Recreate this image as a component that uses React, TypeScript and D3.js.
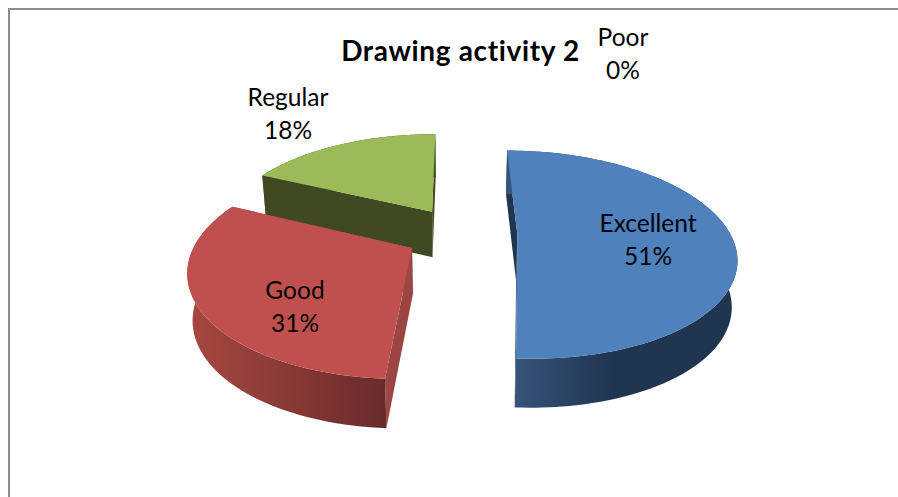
import React from "react";
import * as d3 from "d3";

// Drawing activity ratings, in percent
const categories = ["Excellent", "Good", "Regular", "Poor"];
const percentages = [51, 31, 18, 0];

// Colours per slice: top face, cut face, wall gradient stops
const topColors = ["#4f81bd", "#c0504d", "#9bbb59", "#8064a2"];
const cutColors = ["#1f3550", "#9c4644", "#3f4a22", "#4a3a60"];
const wallStart = ["#37547a", "#a5483f", "#3f4a22", "#4a3a60"];
const wallEnd = ["#1f3550", "#692a2b", "#3f4a22", "#4a3a60"];

// Oblique projection of the pie
const width = 898;
const height = 497;
const vanishX = 453;
const offAxis = 0.045;
const centerY = 234;
const radiusX = 213;
const radiusY = 100;
const perspective = 0.19;
const thickness = 46;
const thicknessFalloff = 0.3;
const baseShrink = 0.98;
const explodeBy = [0.257, 0.27, 0.275, 0];

const labelAnchors: [number, number][] = [
  [648, 224],
  [295, 291],
  [288, 98],
  [623, 38],
];

type Pt = [number, number];

function project(wx: number, wy: number, depth: number): Pt {
  const s = 1 / (1 + perspective * wy);
  const shrink = 1 - (1 - baseShrink) * depth;
  return [
    vanishX + radiusX * (wx + offAxis) * s * shrink,
    centerY - radiusY * wy * s + thickness * depth * Math.pow(s, thicknessFalloff),
  ];
}

const arcs = d3
  .pie<number>()
  .sort(null)
  .startAngle(0)
  .endAngle(2 * Math.PI)(percentages);

const line = d3.line<Pt>();

interface Slice {
  index: number;
  top: string;
  wall: string;
  cutA: string;
  cutB: string;
  wallRange: [number, number];
}

function buildSlice(index: number): Slice {
  const arc = arcs[index];
  const mid = (arc.startAngle + arc.endAngle) / 2;
  const e = explodeBy[index];
  const ox = Math.sin(mid) * e;
  const oy = Math.cos(mid) * e;
  const angles = d3.range(0, 121).map(
    (i) => arc.startAngle + ((arc.endAngle - arc.startAngle) * i) / 120
  );
  const rim = (depth: number) =>
    angles.map((a) => project(ox + Math.sin(a), oy + Math.cos(a), depth));
  const apex = (depth: number) => project(ox, oy, depth);
  const rimTop = rim(0);
  const rimBase = rim(1);
  const first = rimTop[0];
  const last = rimTop[rimTop.length - 1];
  const firstB = rimBase[0];
  const lastB = rimBase[rimBase.length - 1];
  const closed = (pts: Pt[]) => (line(pts) ?? "") + "Z";
  const visible = rimBase.filter((_, i) => Math.cos(angles[i]) < 0.1);
  const xs = (visible.length ? visible : rimBase).map((p) => p[0]);
  return {
    index,
    top: closed([apex(0), ...rimTop]),
    wall: closed([...rimTop, ...[...rimBase].reverse()]),
    cutA: closed([apex(0), first, firstB, apex(1)]),
    cutB: closed([apex(0), last, lastB, apex(1)]),
    wallRange: [d3.min(xs) as number, d3.max(xs) as number],
  };
}

// Painted back to front
const drawOrder = [2, 0, 1];
const slices = drawOrder.map(buildSlice);

const fontFamily = "Lato, Carlito, sans-serif";

export default function App() {
  return (
    <svg
      width={width}
      height={height}
      viewBox={`0 0 ${width} ${height}`}
      style={{ position: "fixed", left: 0, top: 0, display: "block", background: "#fff" }}
    >
      <defs>
        {slices.map((s) => {
          const leftToRight = s.index === 0;
          return (
            <linearGradient
              key={s.index}
              id={`wall-${s.index}`}
              gradientUnits="userSpaceOnUse"
              x1={s.wallRange[0]}
              x2={s.wallRange[1]}
              y1={0}
              y2={0}
            >
              <stop offset="0" stopColor={wallStart[s.index]} />
              <stop offset={leftToRight ? "0.45" : "1"} stopColor={wallEnd[s.index]} />
              <stop offset="1" stopColor={wallEnd[s.index]} />
            </linearGradient>
          );
        })}
      </defs>

      <path d={`M9 ${height}V9H${width}`} fill="none" stroke="#8c8c8c" strokeWidth={2} />

      {slices.map((s) => (
        <g key={s.index}>
          <path d={s.cutA} fill={cutColors[s.index]} />
          <path d={s.cutB} fill={cutColors[s.index]} />
          <path d={s.wall} fill={`url(#wall-${s.index})`} />
          <path d={s.top} fill={topColors[s.index]} />
        </g>
      ))}

      <text
        x={460.5}
        y={61}
        textAnchor="middle"
        fontFamily={fontFamily}
        fontWeight={700}
        fontSize={28}
        letterSpacing={0.65}
        fill="#000"
      >
        Drawing activity 2
      </text>

      {categories.map((name, i) => (
        <text
          key={name}
          textAnchor="middle"
          fontFamily={fontFamily}
          fontSize={24.5}
          fill="#000"
        >
          <tspan x={labelAnchors[i][0]} y={labelAnchors[i][1] + 8}>
            {name}
          </tspan>
          <tspan x={labelAnchors[i][0]} y={labelAnchors[i][1] + 41}>
            {percentages[i]}%
          </tspan>
        </text>
      ))}
    </svg>
  );
}
